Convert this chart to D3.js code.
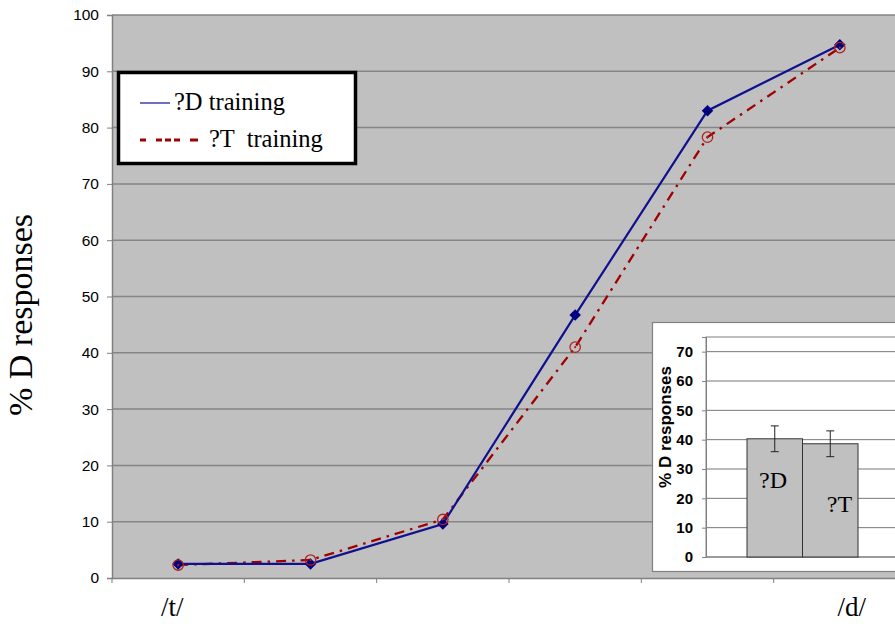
<!DOCTYPE html>
<html><head><meta charset="utf-8">
<script src="https://cdn.jsdelivr.net/npm/d3@7"></script>
<style>body{margin:0;background:#fff;}svg{display:block;}</style>
</head><body>
<svg id="c" width="895" height="624"></svg>
<script>
const steps = ["s1","s2","s3","s4","s5","s6"];
const endLabels = ["/t/","","","","","/d/"];
const dTraining = [2.5, 2.5, 9.6, 46.7, 83.0, 94.7];
const tTraining = [2.3, 3.2, 10.4, 41.0, 78.3, 94.2];
const yTicks = [0,10,20,30,40,50,60,70,80,90,100];
const insetCats = ["?D","?T"];
const insetMeans = [40.3, 38.6];
const insetErr = [4.4, 4.4];
const insetTicks = [0,10,20,30,40,50,60,70];

const serif = "Liberation Serif, Times New Roman, serif";
const sans = "Liberation Sans, Arial, sans-serif";
const svg = d3.select("#c");
const L = 112, T = 15, B = 578, R = 906;
const x = d3.scaleBand().domain(steps).range([L, R]);
const y = d3.scaleLinear().domain([0,100]).range([B, T]);

svg.append("rect").attr("x",L).attr("y",T).attr("width",R-L).attr("height",B-T).attr("fill","#c0c0c0");
svg.append("g").selectAll("line").data(yTicks.filter(d=>d>0)).join("line")
  .attr("x1",L).attr("x2",R).attr("y1",d=>y(d)).attr("y2",d=>y(d))
  .attr("stroke","#858585").attr("stroke-width",1.5);

const yAx = svg.append("g").attr("transform",`translate(${L},0)`)
  .call(d3.axisLeft(y).tickValues(yTicks).tickSize(5).tickPadding(8));
yAx.select(".domain").attr("stroke","#808080").attr("stroke-width",1.5);
yAx.selectAll(".tick line").attr("stroke","#808080");
yAx.selectAll("text").attr("font-family",sans).attr("font-size",15.5).attr("fill","#000");

const xAx = svg.append("g").attr("transform",`translate(0,${B})`)
  .call(d3.axisBottom(x).tickSize(0).tickFormat(""));
xAx.select(".domain").attr("stroke","#808080").attr("stroke-width",1.5);
svg.append("g").selectAll("line").data(steps).join("line")
  .attr("x1",d=>x(d)).attr("x2",d=>x(d)).attr("y1",B).attr("y2",B+5).attr("stroke","#808080");

svg.append("g").selectAll("text").data(steps).join("text")
  .attr("x",(d,i)=>x(d)+x.bandwidth()/2 - (i===0?6:-12)).attr("y",616)
  .attr("text-anchor","middle").attr("font-family",serif)
  .attr("font-size",27).text((d,i)=>endLabels[i]);

svg.append("text").attr("transform","translate(32,315) rotate(-90)")
  .attr("text-anchor","middle").attr("font-family",serif)
  .attr("font-size",34).text("% D responses");

const cx = d => x(d)+x.bandwidth()/2;
const line = arr => d3.line().x((d,i)=>cx(steps[i])).y(d=>y(d))(arr);

svg.append("path").attr("d",line(tTraining)).attr("fill","none").attr("stroke","#a00000")
  .attr("stroke-width",2.3).attr("stroke-dasharray","10,6,2.5,6");
svg.append("path").attr("d",line(dTraining)).attr("fill","none").attr("stroke","#101090").attr("stroke-width",2.2);
svg.append("g").selectAll("path").data(dTraining).join("path")
  .attr("d",d3.symbol(d3.symbolDiamond2,85)())
  .attr("transform",(d,i)=>`translate(${cx(steps[i])},${y(d)})`).attr("fill","#000080");
svg.append("g").selectAll("circle").data(tTraining).join("circle")
  .attr("cx",(d,i)=>cx(steps[i])).attr("cy",d=>y(d)).attr("r",5.2)
  .attr("fill","none").attr("stroke","#b02020").attr("stroke-width",1.3);
svg.append("g").selectAll("circle").data(tTraining).join("circle")
  .attr("cx",(d,i)=>cx(steps[i])).attr("cy",d=>y(d)).attr("r",1.1)
  .attr("fill","#b02020");

// legend
const lg = svg.append("g");
lg.append("rect").attr("x",118.5).attr("y",72.5).attr("width",237).attr("height",91)
  .attr("fill","#fff").attr("stroke","#000").attr("stroke-width",3.5);
lg.append("line").attr("x1",140).attr("x2",170).attr("y1",103).attr("y2",103).attr("stroke","#101090").attr("stroke-width",1.2);
lg.append("line").attr("x1",140).attr("x2",198).attr("y1",140).attr("y2",140).attr("stroke","#a00000").attr("stroke-width",3).attr("stroke-dasharray","6,10,6,3,6,3,6,10,8");
lg.append("text").attr("x",174).attr("y",110).attr("font-family",serif).attr("font-size",24.5).text("?D training");
lg.append("text").attr("x",209).attr("y",147).attr("font-family",serif).attr("font-size",24.5).attr("xml:space","preserve").text("?T  training");

// inset
const ig = svg.append("g");
ig.append("rect").attr("x",652.5).attr("y",322.5).attr("width",260).attr("height",249).attr("fill","#fff").attr("stroke","#808080").attr("stroke-width",1.2);
const iy = d3.scaleLinear().domain([0,75]).range([557,337]);
const ix = d3.scaleBand().domain(insetCats).range([747,858]);
ig.append("rect").attr("x",706).attr("y",337).attr("width",220).attr("height",220).attr("fill","#fff").attr("stroke","#808080");
ig.append("g").selectAll("line").data(insetTicks).join("line")
  .attr("x1",706).attr("x2",900).attr("y1",d=>iy(d)).attr("y2",d=>iy(d)).attr("stroke","#777").attr("stroke-width",1);
const iAx = ig.append("g").attr("transform","translate(706,0)").call(d3.axisLeft(iy).tickValues(insetTicks).tickSize(4).tickPadding(9));
iAx.select(".domain").attr("stroke","#808080");
iAx.selectAll(".tick line").attr("stroke","#808080");
iAx.selectAll("text").attr("font-family",sans).attr("font-weight","bold").attr("font-size",15).attr("fill","#000");
ig.append("text").attr("transform","translate(671,427) rotate(-90)").attr("text-anchor","middle")
  .attr("font-family",sans).attr("font-weight","bold").attr("font-size",17).text("% D responses");
ig.append("g").selectAll("rect").data(insetMeans).join("rect")
  .attr("x",(d,i)=>ix(insetCats[i])).attr("width",ix.bandwidth()).attr("y",d=>iy(d)).attr("height",d=>iy(0)-iy(d))
  .attr("fill","#c0c0c0").attr("stroke","#333").attr("stroke-width",1);
const eg = ig.append("g").attr("stroke","#222").attr("stroke-width",1);
insetMeans.forEach((m,i)=>{
  const c = ix(insetCats[i])+ix.bandwidth()/2;
  eg.append("line").attr("x1",c).attr("x2",c).attr("y1",iy(m+insetErr[i])).attr("y2",iy(m-insetErr[i]));
  eg.append("line").attr("x1",c-4).attr("x2",c+4).attr("y1",iy(m+insetErr[i])).attr("y2",iy(m+insetErr[i]));
  eg.append("line").attr("x1",c-4).attr("x2",c+4).attr("y1",iy(m-insetErr[i])).attr("y2",iy(m-insetErr[i]));
});
ig.append("text").attr("x",ix("?D")+26).attr("y",488).attr("text-anchor","middle").attr("font-family",serif).attr("font-size",24).text("?D");
ig.append("text").attr("x",ix("?T")+37).attr("y",512).attr("text-anchor","middle").attr("font-family",serif).attr("font-size",24).text("?T");
</script>
</body></html>
